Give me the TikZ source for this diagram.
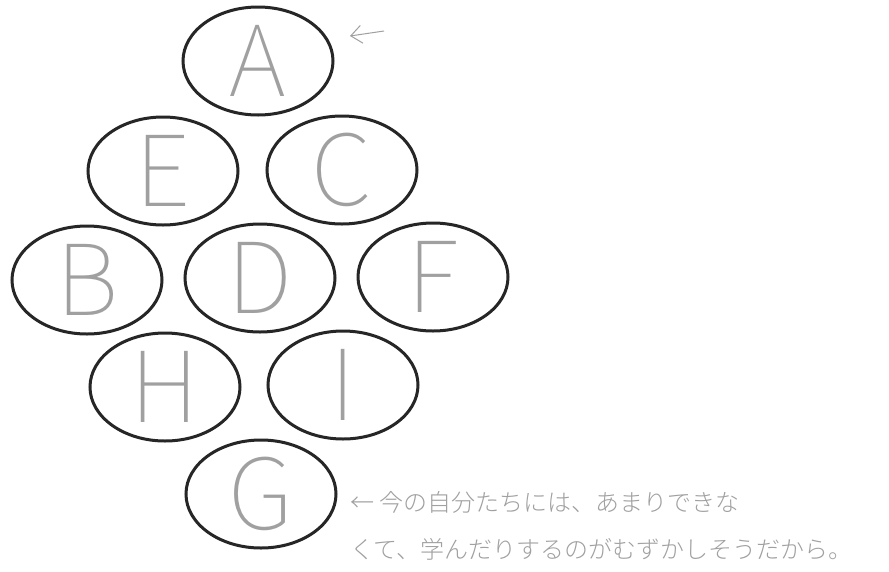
\documentclass[tikz,border=0pt]{standalone}
\usepackage{fontspec}
\setmainfont{Liberation Sans}
\newfontfamily\cjk{Noto Sans CJK JP}[UprightFont={* Light}]
\newfontfamily\thinlat{Noto Sans CJK JP}[UprightFont={* Thin}]
\usetikzlibrary{shapes.geometric,arrows.meta}
\definecolor{ink}{HTML}{262626}
\definecolor{pencil}{HTML}{A0A0A0}
\tikzset{
  cell/.style={ellipse, draw=ink, line width=3pt, minimum width=150pt, minimum height=108pt,
    inner sep=0pt, text=pencil, font=\thinlat\fontsize{98}{98}\selectfont},
  note/.style={text=pencil, font=\cjk\fontsize{24}{24}\selectfont, anchor=west, inner sep=0pt},
  pointer/.style={draw=pencil, line width=1pt, -{Straight Barb[length=11pt,width=18pt]}},
}
\begin{document}
\begin{tikzpicture}[x=1pt,y=-1pt]
\useasboundingbox[fill=white] (0,0) rectangle (889,571);
\node[cell] (A) at (258,61) {A};
\node[cell] (E) at (163,171) {E};
\node[cell] (C) at (342,170) {C};
\node[cell] (B) at (87,280) {B};
\node[cell] (D) at (260,278) {D};
\node[cell] (F) at (433,277) {F};
\node[cell] (H) at (165,387) {H};
\node[cell] (I) at (343,385) {I};
\node[cell] (G) at (261,494) {G};
\coordinate (arrS) at (384,31);
\coordinate (arrE) at (350,36);
\draw[pointer] (arrS) -- (arrE);
\node[note] (n1) at (350,502) {← 今の自分たちには、あまりできな};
\node[note] (n2) at (350,549) {くて、学んだりするのがむずかしそうだから。};
\end{tikzpicture}
\end{document}
